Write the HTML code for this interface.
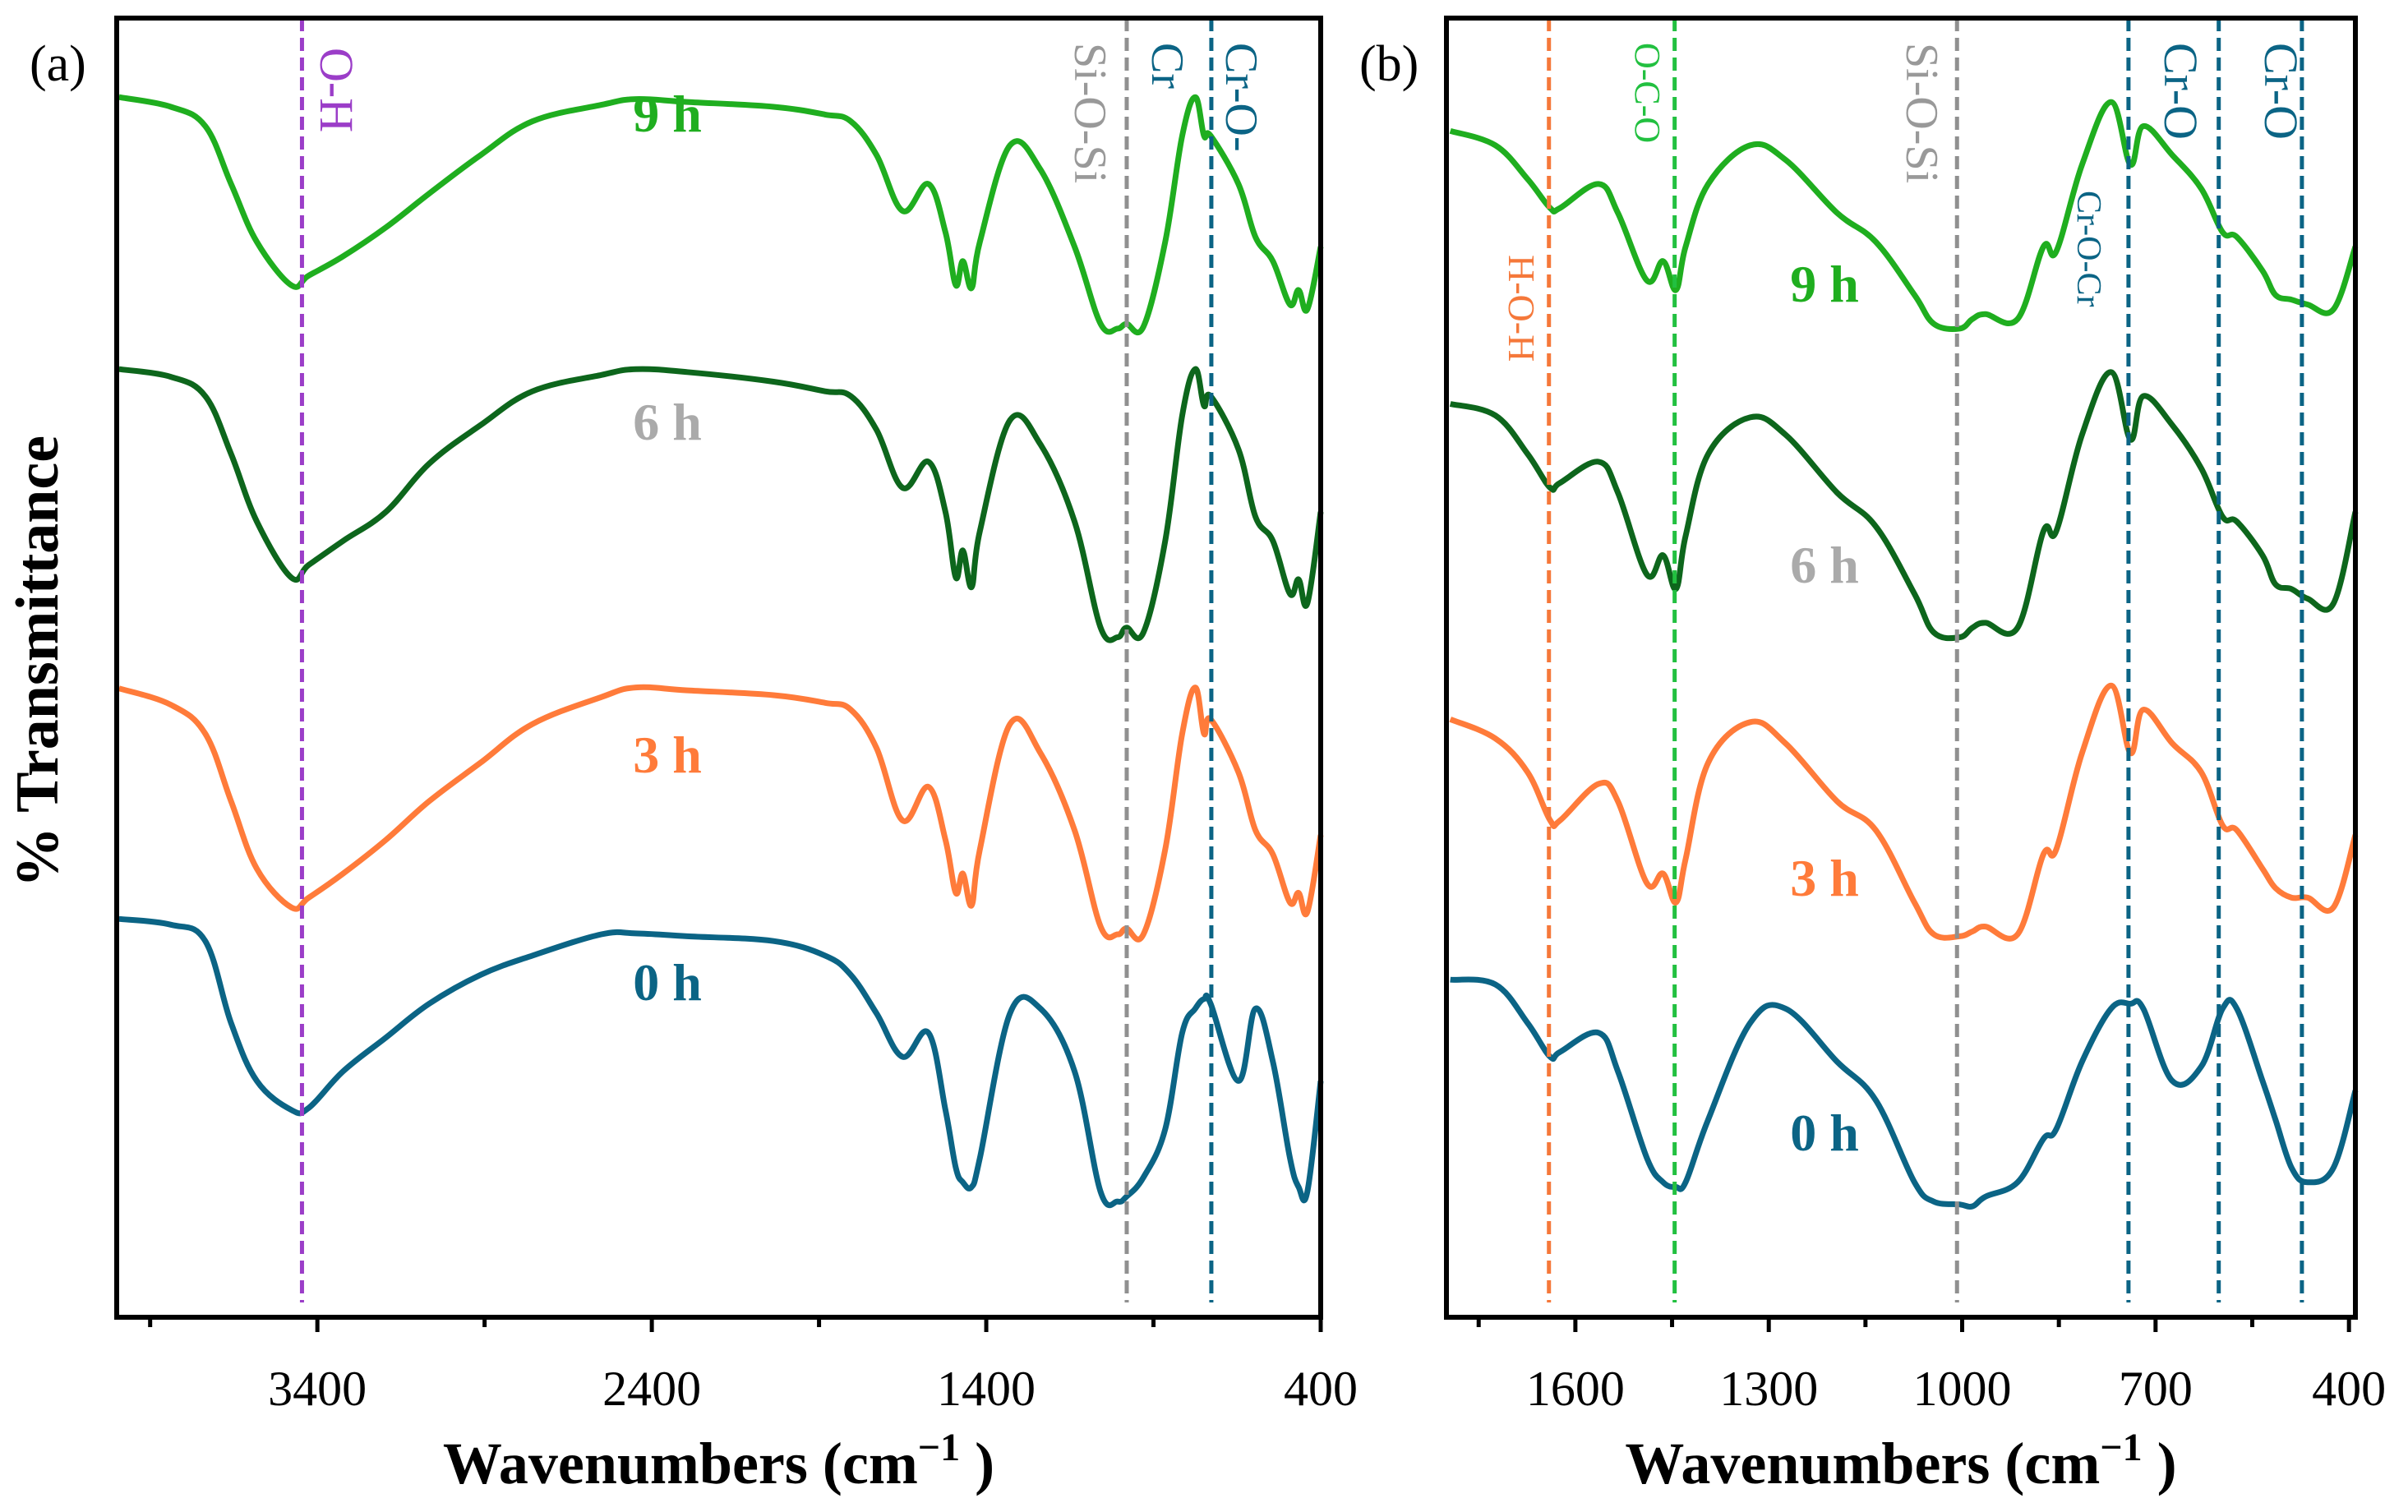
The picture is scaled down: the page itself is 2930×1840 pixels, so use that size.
<!DOCTYPE html>
<html><head><meta charset="utf-8"><style>
html,body{margin:0;padding:0;background:#fff;}
svg{display:block;font-family:"Liberation Serif",serif;}
</style></head><body>
<svg id="chart" width="2930" height="1840" viewBox="0 0 2930 1840" xmlns="http://www.w3.org/2000/svg">
<g id="gL"></g>
<g id="gR"></g>
</svg>
<script>
// Panel (a) data
const wavenumbersA = [3993,3838,3735,3658,3581,3478,3426,3323,3195,3066,2912,2757,2551,2448,2294,2036,1882,1805,1728,1650,1573,1522,1491,1470,1444,1419,1329,1238,1136,1058,1007,981,930,865,814,775,749,729,646,595,543,492,466,440,400];
const a9h = [1265,1255,1235,1175,1115,1070,1080,1100,1130,1165,1205,1240,1257,1263,1260,1255,1247,1240,1205,1147,1175,1125,1070,1095,1067,1115,1215,1190,1110,1030,1025,1030,1027,1115,1225,1265,1225,1225,1175,1120,1095,1050,1065,1045,1110];
const a6h = [983,975,955,895,825,767,780,805,835,885,925,960,977,983,980,970,960,955,920,860,887,835,767,795,757,815,930,905,825,715,705,715,710,805,935,983,945,955,900,830,805,750,765,740,835];
const a3h = [652,635,605,535,465,425,435,460,495,535,575,615,643,653,650,645,637,630,590,515,550,495,440,460,427,485,615,585,505,405,397,403,397,485,605,653,605,620,565,505,480,430,440,420,500];
const a0h = [413,407,390,305,245,215,217,255,290,325,355,375,397,398,395,390,375,355,315,270,295,215,155,140,135,165,315,320,255,130,120,125,145,195,295,320,330,325,245,320,265,165,135,130,245];
const ticksA = [3400,2400,1400,400];
const minorA = [3900,2900,1900,900];
const linesA = [3446,980,727];
// Panel (b) data
const wavenumbersB = [1794,1724,1674,1639,1624,1564,1534,1489,1464,1444,1429,1394,1329,1274,1194,1134,1074,1044,1004,984,964,914,874,854,814,769,739,719,674,629,596,574,534,514,489,464,424,390];
const b9h = [1230,1215,1180,1150,1150,1175,1145,1075,1095,1065,1110,1175,1215,1200,1145,1115,1060,1030,1025,1035,1040,1035,1110,1105,1195,1260,1195,1235,1205,1170,1125,1120,1085,1060,1055,1050,1045,1110];
const b6h = [947,935,895,860,865,887,855,770,790,755,810,895,933,915,855,820,750,710,705,715,720,715,815,815,915,980,910,955,925,880,830,825,790,760,755,745,740,835];
const b3h = [620,600,565,515,515,553,535,450,460,430,475,575,617,595,535,505,430,397,395,400,405,397,480,485,585,655,585,630,595,565,510,505,465,445,435,435,425,500];
const b0h = [350,345,305,270,275,295,255,165,140,135,140,205,305,320,265,225,140,120,117,115,125,140,185,195,265,320,325,320,245,260,320,320,245,205,155,140,155,235];
const ticksB = [1600,1300,1000,700,400];
const minorB = [1750,1450,1150,850,550];
const linesB = [1641,1446,1008,742,602,473];

const NS="http://www.w3.org/2000/svg";
const COL={h9:"#1fae1f",h6:"#0d661c",h3:"#ff7b3a",h0:"#0b6485"};
const TOP=22,BOT=1603;
function yS(v){return BOT - v*(BOT-TOP)/1347;}
function mk(parent,tag,attrs,text){const e=document.createElementNS(NS,tag);for(const k in attrs)e.setAttribute(k,attrs[k]);if(text!==undefined)e.textContent=text;parent.appendChild(e);return e;}
function smooth(pts){
  let d="M"+pts[0][0].toFixed(1)+","+pts[0][1].toFixed(1);
  for(let i=0;i<pts.length-1;i++){
    const p0=pts[Math.max(0,i-1)],p1=pts[i],p2=pts[i+1],p3=pts[Math.min(pts.length-1,i+2)];
    const t=0.18;
    const c1=[p1[0]+(p2[0]-p0[0])*t,p1[1]+(p2[1]-p0[1])*t];
    const c2=[p2[0]-(p3[0]-p1[0])*t,p2[1]-(p3[1]-p1[1])*t];
    d+="C"+c1[0].toFixed(1)+","+c1[1].toFixed(1)+" "+c2[0].toFixed(1)+","+c2[1].toFixed(1)+" "+p2[0].toFixed(1)+","+p2[1].toFixed(1);
  }
  return d;
}

function panel(g,x0,x1,w0,w1,W,series,ticks,minor,vlines,vcols,letter,labelX,labelYs){
  const xS=w=>x0+(w0-w)*(x1-x0)/(w0-w1);
  series.forEach(s=>{
    const pts=W.map((w,i)=>[xS(w),yS(s.v[i])]);
    const p=mk(g,"path",{d:smooth(pts),fill:"none",stroke:s.c,"stroke-width":7,"stroke-linejoin":"round"});
    
    
  });
  vlines.forEach((w,i)=>{
    const l=mk(g,"line",{x1:xS(w),x2:xS(w),y1:TOP,y2:1585,stroke:vcols[i],"stroke-width":5,"stroke-dasharray":"16,8"});
    
    
  });
  const f=mk(g,"rect",{x:x0,y:TOP,width:x1-x0,height:BOT-TOP,fill:"none",stroke:"#000","stroke-width":6});
  
  
  ticks.forEach(t=>{
    const tk=mk(g,"line",{x1:xS(t),x2:xS(t),y1:BOT,y2:BOT+18,stroke:"#000","stroke-width":5});
    
    
    const tl=mk(g,"text",{x:xS(t),y:1710,"font-size":60,"text-anchor":"middle"},String(t));
    
    
  });
  minor.forEach(t=>{
    const tk=mk(g,"line",{x1:xS(t),x2:xS(t),y1:BOT,y2:BOT+12,stroke:"#000","stroke-width":5});
    
    
  });
  const lt=mk(g,"text",{x:x0-106,y:98,"font-size":62},letter);
  
  
  const names=["9 h","6 h","3 h","0 h"],cols=[COL.h9,"#aaaaaa",COL.h3,COL.h0];
  names.forEach((n,i)=>{
    const t=mk(g,"text",{x:labelX,y:labelYs[i],"font-size":64,"font-weight":"bold",fill:cols[i],"text-anchor":"middle"},n);
    
    
  });
  const title=mk(g,"text",{x:(x0+x1)/2,y:1805,"font-size":72,"font-weight":"bold","text-anchor":"middle"},"Wavenumbers (cm");
  
  
  mk(title,"tspan",{"font-size":48,dy:-28},"\u22121");
  mk(title,"tspan",{dy:28}," )");
  return xS;
}
const gL=document.getElementById("gL"),gR=document.getElementById("gR");
panel(gL,142,1607,4000,400,wavenumbersA,
  [{n:"9h",c:COL.h9,v:a9h},{n:"6h",c:COL.h6,v:a6h},{n:"3h",c:COL.h3,v:a3h},{n:"0h",c:COL.h0,v:a0h}],
  ticksA,minorA,linesA,["#9b3dc8","#909090","#0b6485"],"(a)",812,[160,535,940,1217]);
panel(gR,1760,2866,1800,390,wavenumbersB,
  [{n:"9h",c:COL.h9,v:b9h},{n:"6h",c:COL.h6,v:b6h},{n:"3h",c:COL.h3,v:b3h},{n:"0h",c:COL.h0,v:b0h}],
  ticksB,minorB,linesB,["#f5783a","#22c040","#909090","#0b6485","#0b6485","#0b6485"],"(b)",2220,[367,709,1090,1400]);

const rl=[
 [gL,390,58,"O-H","#9b3dc8",58],[gL,1308,52,"Si-O-Si","#999",56],[gL,1402,52,"Cr","#0b6485",56],[gL,1492,52,"Cr-O-","#0b6485",56],
 [gR,1990,52,"O-C-O","#22c040",44],[gR,1836,310,"H-O-H","#f5783a",46],[gR,2320,52,"Si-O-Si","#999",56],[gR,2528,232,"Cr-O-Cr","#0b6485",42],[gR,2634,52,"Cr-O","#0b6485",58],[gR,2756,52,"Cr-O","#0b6485",58]
];
rl.forEach(r=>{
  const t=mk(r[0],"text",{x:r[1],y:r[2],"font-size":r[5],fill:r[4],transform:"rotate(90 "+r[1]+" "+r[2]+")"},r[3]);
  
  
});
const svg=document.getElementById("chart");
const yt=mk(svg,"text",{x:70,y:805,"font-size":74,"font-weight":"bold","text-anchor":"middle",transform:"rotate(-90 70 805)"},"% Transmittance");


</script>
</body></html>
